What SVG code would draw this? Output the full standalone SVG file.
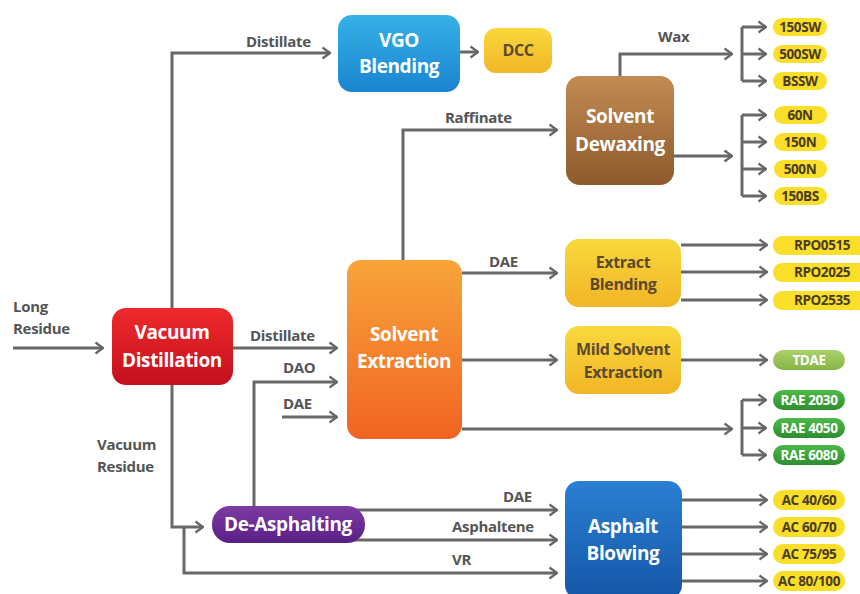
<svg xmlns="http://www.w3.org/2000/svg" width="860" height="594" viewBox="0 0 860 594">
<defs>
<linearGradient id="gVgo" x1="0" y1="0" x2="0" y2="1"><stop offset="0" stop-color="#36b1e8"/><stop offset="1" stop-color="#1a84cf"/></linearGradient>
<linearGradient id="gYel" x1="0" y1="0" x2="0" y2="1"><stop offset="0" stop-color="#f9d83c"/><stop offset="1" stop-color="#f2b526"/></linearGradient>
<linearGradient id="gBrown" x1="0" y1="0" x2="0" y2="1"><stop offset="0" stop-color="#c18b53"/><stop offset="1" stop-color="#8e5a2c"/></linearGradient>
<linearGradient id="gRed" x1="0" y1="0" x2="0" y2="1"><stop offset="0" stop-color="#ee2a2c"/><stop offset="1" stop-color="#c5101e"/></linearGradient>
<linearGradient id="gOrange" x1="0" y1="0" x2="0" y2="1"><stop offset="0" stop-color="#f8a53a"/><stop offset="1" stop-color="#f16322"/></linearGradient>
<linearGradient id="gPurple" x1="0" y1="0" x2="0" y2="1"><stop offset="0" stop-color="#7b3ba3"/><stop offset="1" stop-color="#5a1f86"/></linearGradient>
<linearGradient id="gBlue" x1="0" y1="0" x2="0" y2="1"><stop offset="0" stop-color="#2a80d2"/><stop offset="1" stop-color="#1556a8"/></linearGradient>
<linearGradient id="gTdae" x1="0" y1="0" x2="0" y2="1"><stop offset="0" stop-color="#abd26c"/><stop offset="1" stop-color="#86b444"/></linearGradient>
<linearGradient id="gRae" x1="0" y1="0" x2="0" y2="1"><stop offset="0" stop-color="#4dba4a"/><stop offset="1" stop-color="#2d8e2e"/></linearGradient>
<marker id="arr" markerUnits="userSpaceOnUse" viewBox="0 0 10 14" refX="9" refY="7" markerWidth="10" markerHeight="14" orient="auto">
<path d="M1.5,1.5 L9,7 L1.5,12.5" fill="none" stroke="#666" stroke-width="2.2"/>
</marker>
<style>
.c{fill:none;stroke:#686868;stroke-width:3}
.a{marker-end:url(#arr)}
.lbl{font-family:"Open Sans","Liberation Sans",sans-serif;font-weight:700;font-size:15px;fill:#555;letter-spacing:-0.3px}
.nt{font-family:"Open Sans","Liberation Sans",sans-serif;font-weight:700;font-size:19px;fill:#fff;text-anchor:middle;letter-spacing:-0.4px}
.nd{font-family:"Open Sans","Liberation Sans",sans-serif;font-weight:700;font-size:16px;fill:#5a4a2e;text-anchor:middle;letter-spacing:-0.4px}
.pt{font-family:"Open Sans","Liberation Sans",sans-serif;font-weight:700;font-size:13.5px;fill:#4a3c22;text-anchor:middle;letter-spacing:-0.4px}
.pw{font-family:"Open Sans","Liberation Sans",sans-serif;font-weight:700;font-size:13.5px;fill:#fff;text-anchor:middle;letter-spacing:-0.4px}
.py{fill:#f9de2a}
</style>
</defs>
<rect width="860" height="594" fill="#fff"/>

<g id="connectors">
<path class="c a" d="M172,308 V53 H330"/>
<path class="c a" d="M460,52 H478"/>
<path class="c a" d="M403,260 V130 H557"/>
<path class="c a" d="M620,76 V54 H732"/>
<path class="c" d="M742,27 V81"/>
<path class="c a" d="M742,27 H766"/>
<path class="c a" d="M742,54 H766"/>
<path class="c a" d="M742,81 H766"/>
<path class="c a" d="M674,156 H732"/>
<path class="c" d="M742,115 V196"/>
<path class="c a" d="M742,115 H766"/>
<path class="c a" d="M742,142 H766"/>
<path class="c a" d="M742,169 H766"/>
<path class="c a" d="M742,196 H766"/>
<path class="c a" d="M13,348 H103"/>
<path class="c a" d="M233,348 H337"/>
<path class="c a" d="M254,506 V382 H337"/>
<path class="c a" d="M282,417 H337"/>
<path class="c a" d="M172,385 V527 H203"/>
<path class="c a" d="M184,527 V573 H557"/>
<path class="c a" d="M350,510 H557"/>
<path class="c a" d="M350,540 H557"/>
<path class="c a" d="M462,273 H557"/>
<path class="c a" d="M462,360 H557"/>
<path class="c a" d="M462,429 H732"/>
<path class="c" d="M742,400 V455"/>
<path class="c a" d="M742,400 H766"/>
<path class="c a" d="M742,428 H766"/>
<path class="c a" d="M742,455 H766"/>
<path class="c a" d="M681,245 H767"/>
<path class="c a" d="M681,272 H767"/>
<path class="c a" d="M681,300 H767"/>
<path class="c a" d="M681,360 H767"/>
<path class="c a" d="M682,500 H767"/>
<path class="c a" d="M682,527 H767"/>
<path class="c a" d="M682,554 H767"/>
<path class="c a" d="M682,581 H767"/>
</g>

<g id="labels">
<text class="lbl" x="246" y="47">Distillate</text>
<text class="lbl" x="658" y="42">Wax</text>
<text class="lbl" x="445" y="123">Raffinate</text>
<text class="lbl" x="13" y="312">Long</text>
<text class="lbl" x="13" y="334">Residue</text>
<text class="lbl" x="250" y="341">Distillate</text>
<text class="lbl" x="283" y="373">DAO</text>
<text class="lbl" x="283" y="409">DAE</text>
<text class="lbl" x="489" y="267">DAE</text>
<text class="lbl" x="97" y="450">Vacuum</text>
<text class="lbl" x="97" y="472">Residue</text>
<text class="lbl" x="503" y="502">DAE</text>
<text class="lbl" x="452" y="532">Asphaltene</text>
<text class="lbl" x="452" y="565">VR</text>
</g>

<g id="vgo-blending"><rect x="338" y="15" width="122" height="77" rx="14" fill="url(#gVgo)"/><text class="nt" x="399" y="47">VGO</text><text class="nt" x="399" y="73">Blending</text></g>
<g id="dcc"><rect x="484" y="28" width="68" height="45" rx="12" fill="url(#gYel)"/><text class="nd" x="518" y="56">DCC</text></g>
<g id="solvent-dewaxing"><rect x="566" y="76" width="108" height="109" rx="14" fill="url(#gBrown)"/><text class="nt" x="620" y="123">Solvent</text><text class="nt" x="620" y="151">Dewaxing</text></g>
<g id="vacuum-distillation"><rect x="112" y="308" width="121" height="77" rx="14" fill="url(#gRed)"/><text class="nt" x="172" y="339">Vacuum</text><text class="nt" x="172" y="367">Distillation</text></g>
<g id="solvent-extraction"><rect x="347" y="260" width="115" height="179" rx="14" fill="url(#gOrange)"/><text class="nt" x="404" y="341">Solvent</text><text class="nt" x="404" y="368">Extraction</text></g>
<g id="extract-blending"><rect x="565" y="239" width="116" height="68" rx="14" fill="url(#gYel)"/><text class="nd" x="623" y="268">Extract</text><text class="nd" x="623" y="290">Blending</text></g>
<g id="mild-solvent-extraction"><rect x="565" y="326" width="116" height="68" rx="14" fill="url(#gYel)"/><text class="nd" x="623" y="355">Mild Solvent</text><text class="nd" x="623" y="378">Extraction</text></g>
<g id="de-asphalting"><rect x="212" y="506" width="153" height="37" rx="18" fill="url(#gPurple)"/><text class="nt" x="288" y="531">De-Asphalting</text></g>
<g id="asphalt-blowing"><rect x="565" y="481" width="117" height="118" rx="14" fill="url(#gBlue)"/><text class="nt" x="623" y="533">Asphalt</text><text class="nt" x="623" y="560">Blowing</text></g>

<g id="p-150sw"><rect class="py" x="773" y="18" width="54" height="18" rx="9"/><text class="pt" x="800" y="32">150SW</text></g>
<g id="p-500sw"><rect class="py" x="773" y="45" width="54" height="18" rx="9"/><text class="pt" x="800" y="59">500SW</text></g>
<g id="p-bssw"><rect class="py" x="773" y="72" width="54" height="18" rx="9"/><text class="pt" x="800" y="86">BSSW</text></g>
<g id="p-60n"><rect class="py" x="774" y="106" width="53" height="18" rx="9"/><text class="pt" x="800" y="120">60N</text></g>
<g id="p-150n"><rect class="py" x="774" y="133" width="53" height="18" rx="9"/><text class="pt" x="800" y="147">150N</text></g>
<g id="p-500n"><rect class="py" x="774" y="160" width="53" height="18" rx="9"/><text class="pt" x="800" y="174">500N</text></g>
<g id="p-150bs"><rect class="py" x="774" y="187" width="53" height="18" rx="9"/><text class="pt" x="800" y="201">150BS</text></g>
<g id="p-rpo0515"><rect class="py" x="773" y="236" width="100" height="19" rx="9"/><text class="pt" x="822" y="250">RPO0515</text></g>
<g id="p-rpo2025"><rect class="py" x="773" y="263" width="100" height="19" rx="9"/><text class="pt" x="822" y="277">RPO2025</text></g>
<g id="p-rpo2535"><rect class="py" x="773" y="291" width="100" height="19" rx="9"/><text class="pt" x="822" y="305">RPO2535</text></g>
<g id="p-tdae"><rect x="773" y="350" width="72" height="20" rx="10" fill="url(#gTdae)"/><text class="pw" x="809" y="365">TDAE</text></g>
<g id="p-rae2030"><rect x="773" y="390" width="72" height="20" rx="10" fill="url(#gRae)"/><text class="pw" x="809" y="405">RAE 2030</text></g>
<g id="p-rae4050"><rect x="773" y="418" width="72" height="20" rx="10" fill="url(#gRae)"/><text class="pw" x="809" y="433">RAE 4050</text></g>
<g id="p-rae6080"><rect x="773" y="445" width="72" height="20" rx="10" fill="url(#gRae)"/><text class="pw" x="809" y="460">RAE 6080</text></g>
<g id="p-ac4060"><rect class="py" x="773" y="490" width="72" height="20" rx="10"/><text class="pt" x="809" y="505">AC 40/60</text></g>
<g id="p-ac6070"><rect class="py" x="773" y="517" width="72" height="20" rx="10"/><text class="pt" x="809" y="532">AC 60/70</text></g>
<g id="p-ac7595"><rect class="py" x="773" y="544" width="72" height="20" rx="10"/><text class="pt" x="809" y="559">AC 75/95</text></g>
<g id="p-ac80100"><rect class="py" x="773" y="571" width="72" height="20" rx="10"/><text class="pt" x="809" y="586">AC 80/100</text></g>
</svg>
